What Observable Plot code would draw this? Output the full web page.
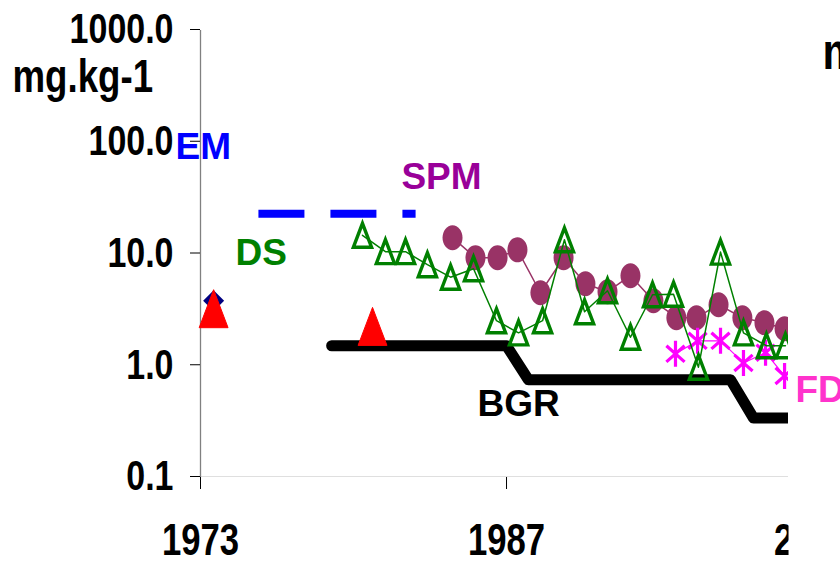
<!DOCTYPE html>
<html>
<head>
<meta charset="utf-8">
<script src="https://cdn.jsdelivr.net/npm/d3@7"></script>
<script src="https://cdn.jsdelivr.net/npm/@observablehq/plot@0.6"></script>
<style>
  html, body { margin: 0; padding: 0; background: #fff; }
  #chart { width: 840px; height: 562px; overflow: hidden; }
</style>
</head>
<body>
<div id="chart"></div>
<script>
// ---- data ----
const xTicks = [1973, 1987, 2001];
const yTicks = [0.1, 1, 10, 100, 1000];
const xDomain = [1973, 1999.9];
const yDomain = [0.1, 1000];

const bgrYears  = [1979, 1987, 1988, 1997.25, 1998.3, 2001];
const bgrValues = [1.51, 1.51, 0.75, 0.75, 0.34, 0.34];

const emLineYears  = [1975.65, 1982.84];
const emLineValues = [22.9, 22.9];
const emPointYears  = [1973.6];
const emPointValues = [3.82];

const redYears  = [1973.6, 1980.87];
const redValues = [3.24, 2.25];

const dsYears  = [1980.41, 1981.46, 1982.38, 1983.38, 1984.44, 1985.49, 1986.54, 1987.55, 1988.65, 1989.65,
                  1990.57, 1991.62, 1992.67, 1993.68, 1994.64, 1995.78, 1996.79, 1997.84, 1998.89, 1999.76];
const dsValues = [14.7, 10.5, 10.5, 8.02, 6.2, 7.39, 2.53, 1.97, 2.53, 13.4,
                  3.04, 4.69, 1.80, 4.32, 4.37, 0.97, 10.4, 1.97, 1.51, 1.51];

const spmYears  = [1984.53, 1985.58, 1986.59, 1987.50, 1988.55, 1989.61, 1990.61, 1991.62,
                   1992.67, 1993.72, 1994.77, 1995.69, 1996.70, 1997.79, 1998.80, 1999.72];
const spmValues = [14.0, 9.27, 9.27, 10.9, 4.50, 9.27, 5.42, 4.60,
                   6.39, 3.82, 2.69, 2.69, 3.52, 2.69, 2.43, 2.14];

const fdYears  = [1994.73, 1995.74, 1996.79, 1997.84, 1998.85, 1999.72];
const fdValues = [1.28, 1.67, 1.67, 1.06, 1.31, 0.81];

const labelTexts  = ["EM", "DS", "SPM", "BGR", "FD"];
const labelYears  = [1971.86, 1974.60, 1982.19, 1985.67, 2000.22];
const labelValues = [90.4, 10.27, 48.7, 0.452, 0.604];
const labelColors = ["#0000FF", "#008000", "#990099", "#000000", "#FF33CC"];

const unitText = "mg.kg-1";
const unitYear = 1964.4;
const unitValue = 386;

const cornerText = "m";
const cornerYear = 2001.45;
const cornerValue = 634;

// ---- build tables ----
const zip = (xs, ys) => xs.map((x, i) => ({x, y: ys[i]}));
const bgr = zip(bgrYears, bgrValues);
const emLine = zip(emLineYears, emLineValues);
const emPoint = zip(emPointYears, emPointValues);
const red = zip(redYears, redValues);
const ds = zip(dsYears, dsValues);
const spm = zip(spmYears, spmValues);
const fd = zip(fdYears, fdValues);
const labels = labelTexts.map((t, i) => ({t, x: labelYears[i], y: labelValues[i], c: labelColors[i]}));

// ---- custom marker shapes ----
const rOf = size => Math.sqrt(size / Math.PI);
const tallTriangle = {draw(ctx, size) {
  const r = rOf(size), w = r * 0.76;
  ctx.moveTo(0, -r); ctx.lineTo(w, r); ctx.lineTo(-w, r); ctx.closePath();
}};
const ellipse = {draw(ctx, size) {
  const ry = rOf(size), rx = ry * 0.8, k = 0.5523;
  ctx.moveTo(rx, 0);
  ctx.bezierCurveTo(rx, ry * k, rx * k, ry, 0, ry);
  ctx.bezierCurveTo(-rx * k, ry, -rx, ry * k, -rx, 0);
  ctx.bezierCurveTo(-rx, -ry * k, -rx * k, -ry, 0, -ry);
  ctx.bezierCurveTo(rx * k, -ry, rx, -ry * k, rx, 0);
  ctx.closePath();
}};
const star = {draw(ctx, size) {
  const ry = rOf(size), rx = ry * 0.7;
  ctx.moveTo(0, -ry); ctx.lineTo(0, ry);
  ctx.moveTo(-rx, -ry * 0.62); ctx.lineTo(rx, ry * 0.62);
  ctx.moveTo(-rx, ry * 0.62); ctx.lineTo(rx, -ry * 0.62);
}};
const diamond = {draw(ctx, size) {
  const r = rOf(size);
  ctx.moveTo(0, -r); ctx.lineTo(r, 0); ctx.lineTo(0, r); ctx.lineTo(-r, 0); ctx.closePath();
}};

const font = "'Liberation Sans', Arial, sans-serif";

const chart = Plot.plot({
  width: 840,
  height: 562,
  marginLeft: 200,
  marginRight: 52,
  marginTop: 30,
  marginBottom: 85,
  style: {background: "#fff", overflow: "visible"},
  x: {domain: xDomain, axis: null},
  y: {type: "log", domain: yDomain, axis: null},
  marks: [
    // axis lines
    Plot.ruleY([yDomain[0]], {stroke: "#808080", strokeWidth: 1.3, clip: true}),
    Plot.ruleX([xDomain[0]], {stroke: "#808080", strokeWidth: 1.3}),
    // y axis
    Plot.axisY({
      ticks: yTicks, tickFormat: d3.format(".1f"), tickSize: 10, tickPadding: 17, label: null,
      stroke: "#000", fill: "#000", fontSize: 43, fontWeight: "bold", fontFamily: font, dy: -1
    }),
    // x axis
    Plot.axisX({
      ticks: xTicks, tickFormat: d => String(d), tickSize: 12, tickPadding: 34, label: null,
      stroke: "#000", fill: "#000", fontSize: 45, fontWeight: "bold", fontFamily: font
    }),
    // BGR
    Plot.line(bgr, {x: "x", y: "y", stroke: "#000", strokeWidth: 11, strokeLinejoin: "round", strokeLinecap: "round", clip: true}),
    // EM dashes
    Plot.line(emLine, {x: "x", y: "y", stroke: "#0000FF", strokeWidth: 8, strokeDasharray: "46,26", strokeLinecap: "butt"}),
    // SPM
    Plot.line(spm, {x: "x", y: "y", stroke: "#993366", strokeWidth: 1.5, clip: true}),
    Plot.dot(spm, {x: "x", y: "y", r: 12.5, symbol: ellipse, fill: "#993366", stroke: "none", clip: true}),
    // FD
    Plot.line(fd, {x: "x", y: "y", stroke: "#FF00FF", strokeWidth: 1.2, clip: true}),
    Plot.dot(fd, {x: "x", y: "y", r: 13, symbol: star, stroke: "#FF00FF", strokeWidth: 3.2, fill: "none", clip: true}),
    // DS
    Plot.line(ds, {x: "x", y: "y", stroke: "#008000", strokeWidth: 1.5, clip: true}),
    Plot.dot(ds, {x: "x", y: "y", r: 12, symbol: tallTriangle, stroke: "#008000", strokeWidth: 3.4, fill: "none", clip: true}),
    // EM point + red triangles
    Plot.dot(emPoint, {x: "x", y: "y", r: 10.5, symbol: diamond, fill: "#000080", stroke: "none"}),
    Plot.dot(red, {x: "x", y: "y", r: 19, symbol: tallTriangle, fill: "#FF0000", stroke: "#FF0000", strokeWidth: 1, strokeLinejoin: "round"}),
    // series labels
    Plot.text(labels, {x: "x", y: "y", text: "t", fill: "c", textAnchor: "start", lineAnchor: "middle",
      fontSize: 37, fontWeight: "bold", fontFamily: font}),
    // unit and corner text
    Plot.text([unitText], {x: [unitYear], y: [unitValue], text: d => d, textAnchor: "start", lineAnchor: "middle",
      fontSize: 47, fontWeight: "bold", fontFamily: font, fill: "#000"}),
    Plot.text([cornerText], {x: [cornerYear], y: [cornerValue], text: d => d, textAnchor: "start", lineAnchor: "middle",
      fontSize: 52, fontWeight: "bold", fontFamily: font, fill: "#000"})
  ]
});

document.getElementById("chart").appendChild(chart);

// narrow the tick and unit texts (the reference uses a condensed face)
function squeeze(t, factor) {
  const L = t.getComputedTextLength();
  t.setAttribute("textLength", (L * factor).toFixed(1));
  t.setAttribute("lengthAdjust", "spacingAndGlyphs");
}
chart.querySelectorAll('g[aria-label="y-axis tick label"] text').forEach(t => squeeze(t, 0.79));
chart.querySelectorAll('g[aria-label="x-axis tick label"] text').forEach(t => squeeze(t, 0.77));
chart.querySelectorAll("text").forEach(t => {
  if (t.textContent === unitText) squeeze(t, 0.78);
  else if (t.textContent === cornerText) squeeze(t, 0.82);
});

// clip the x tick labels at the right edge of the plot frame (as in the reference)
const rightEdge = chart.scale("x").range[1];
const ns = "http://www.w3.org/2000/svg";
const defs = document.createElementNS(ns, "defs");
const cp = document.createElementNS(ns, "clipPath");
cp.setAttribute("id", "xlabel-clip");
cp.setAttribute("clipPathUnits", "userSpaceOnUse");
const rect = document.createElementNS(ns, "rect");
rect.setAttribute("x", 0); rect.setAttribute("y", 0);
rect.setAttribute("width", rightEdge); rect.setAttribute("height", 562);
cp.appendChild(rect); defs.appendChild(cp); chart.appendChild(defs);
chart.querySelectorAll('g[aria-label="x-axis tick label"], g[aria-label="x-axis tick"]').forEach(g => g.setAttribute("clip-path", "url(#xlabel-clip)"));
</script>
</body>
</html>
